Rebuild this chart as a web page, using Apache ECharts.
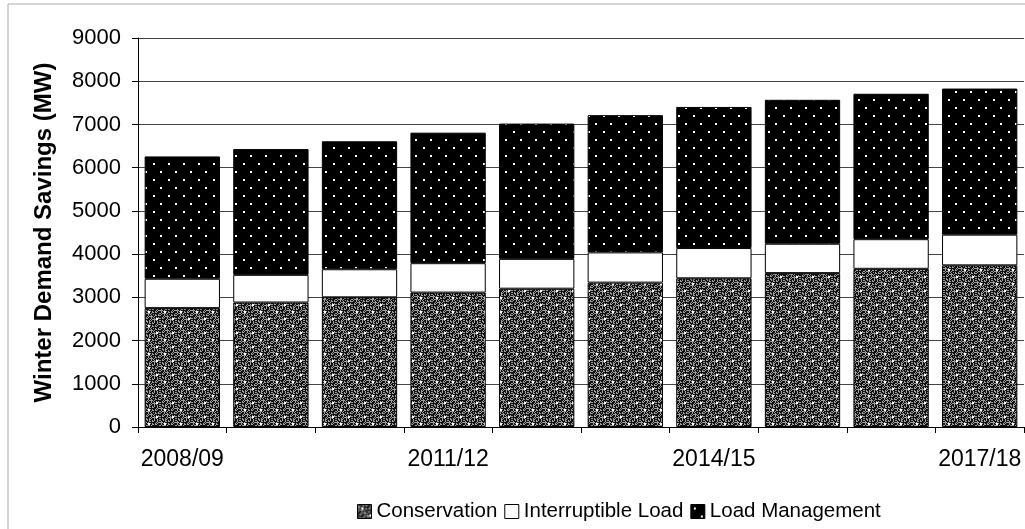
<!DOCTYPE html>
<html><head><meta charset="utf-8">
<script src="https://cdn.jsdelivr.net/npm/echarts@6/dist/echarts.min.js"></script>
<style>html,body{margin:0;padding:0;background:#fff}#c{width:1025px;height:529px}</style>
</head><body><div id="c"></div>
<script>
const categories = ['2008/09','2009/10','2010/11','2011/12','2012/13','2013/14','2014/15','2015/16','2016/17','2017/18'];
const conservation = [2750, 2880, 3000, 3110, 3200, 3340, 3440, 3560, 3660, 3740];
const interruptible = [680, 640, 650, 680, 690, 700, 700, 680, 685, 710];
const loadManagement = [2830, 2910, 2960, 3020, 3130, 3175, 3265, 3330, 3365, 3380];
const yTicks = [0,1000,2000,3000,4000,5000,6000,7000,8000,9000];

function dotsPattern() {
  const c = document.createElement('canvas'); c.width = 15; c.height = 16;
  const g = c.getContext('2d');
  g.fillStyle = '#000'; g.fillRect(0,0,15,16);
  g.fillStyle = '#fff';
  g.fillRect(3,3,2,2); g.fillRect(10,11,2,2);
  return c;
}
function speckPattern() {
  const c = document.createElement('canvas'); c.width = 16; c.height = 14;
  const g = c.getContext('2d');
  g.fillStyle = '#111'; g.fillRect(0,0,16,14);
  g.fillStyle = '#a0a0a0';
  for (let y=0;y<14;y++) for (let x=0;x<16;x++) {
    if (((x*7 + y*13 + (x*y)%3) % 5) < 2) g.fillRect(x,y,1,1);
  }
  g.fillStyle = '#fff';
  g.fillRect(4,3,2,2); g.fillRect(12,10,2,2);
  return c;
}
const chart = echarts.init(document.getElementById('c'), null, {renderer:'canvas'});
const font = 'Liberation Sans, Arial, sans-serif';
chart.setOption({
  animation:false,
  backgroundColor:'#fff',
  textStyle:{fontFamily:font},
  graphic:[{type:'rect', shape:{x:8,y:4,width:1030,height:560}, style:{fill:'none', stroke:'#aaa', lineWidth:1}, silent:true}],
  grid:{left:138, top:38, width:886, height:389, containLabel:false},
  legend:{
    bottom:2, left:352, icon:'rect', itemWidth:14, itemHeight:14, itemGap:7,
    textStyle:{fontSize:20.5, color:'#000', fontFamily:font},
    itemStyle:{borderColor:'#000', borderWidth:1}
  },
  xAxis:{
    type:'category', data:categories, boundaryGap:true,
    axisLine:{lineStyle:{color:'#000', width:1}},
    axisTick:{show:true, interval:0, length:6, lineStyle:{color:'#000'}},
    axisLabel:{interval:2, color:'#000', fontSize:23, margin:21, fontFamily:font}
  },
  yAxis:{
    type:'value', min:0, max:9000, interval:1000,
    name:'Winter Demand Savings (MW)', nameLocation:'middle', nameGap:82, nameRotate:90,
    nameTextStyle:{fontSize:24, fontWeight:'bold', color:'#000', fontFamily:font},
    axisLine:{show:true, lineStyle:{color:'#000'}},
    axisTick:{show:true, length:6, lineStyle:{color:'#000'}},
    axisLabel:{color:'#000', fontSize:22, margin:17, fontFamily:font,
      formatter:function(v){ return yTicks.indexOf(v)>=0 ? String(v) : ''; }},
    splitLine:{show:true, lineStyle:{color:'#444', width:1}}
  },
  series:[
    {name:'Conservation', type:'bar', stack:'s', data:conservation, barCategoryGap:'15%',
     itemStyle:{color:{image:speckPattern(), repeat:'repeat'}, borderColor:'#000', borderWidth:1}},
    {name:'Interruptible Load', type:'bar', stack:'s', data:interruptible,
     itemStyle:{color:'#fff', borderColor:'#000', borderWidth:1}},
    {name:'Load Management', type:'bar', stack:'s', data:loadManagement,
     itemStyle:{color:{image:dotsPattern(), repeat:'repeat'}, borderColor:'#000', borderWidth:1}}
  ]
});
</script></body></html>
